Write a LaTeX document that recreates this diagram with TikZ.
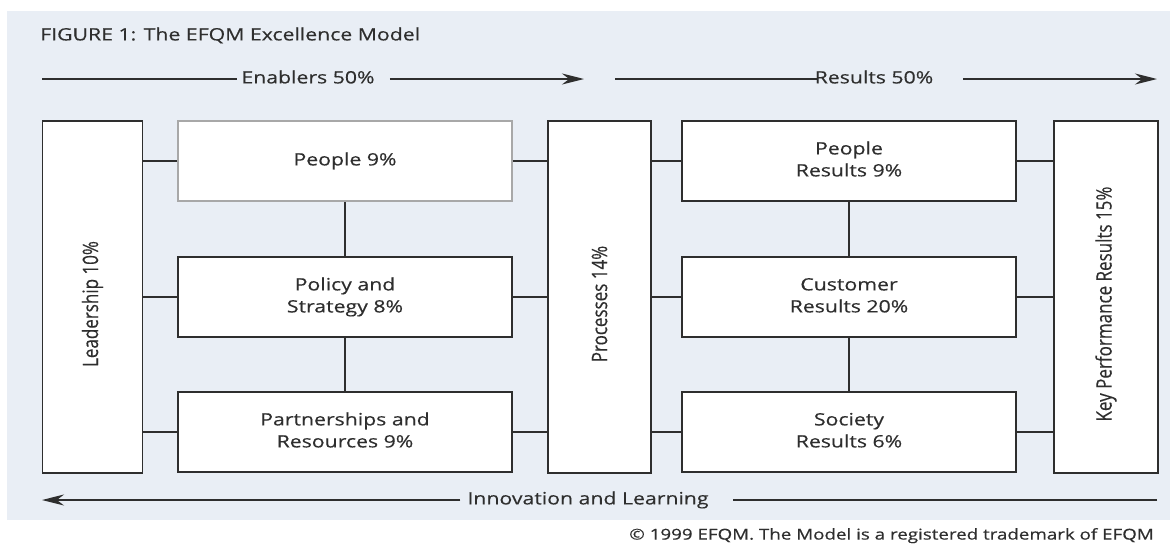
\documentclass[tikz,border=0pt]{standalone}
\usepackage{fontspec}
\setmainfont{Open Sans}[UprightFeatures={FakeBold=0.35}]
\usetikzlibrary{arrows.meta}
\definecolor{panel}{HTML}{E9EEF5}
\definecolor{ink}{HTML}{2E2E2E}
\definecolor{lightedge}{HTML}{A8A8A8}
\newcommand{\hwide}[1]{\scalebox{1.25}[1]{\begin{tabular}{@{}c@{}}#1\end{tabular}}}
\newcommand{\vwide}[1]{\rotatebox{90}{\scalebox{1}[1.25]{#1\hspace{14pt}}}}
\tikzset{
  box/.style={draw=ink, line width=1.6pt, fill=white, inner sep=0pt, align=center, text=ink, font=\fontsize{17}{22}\selectfont},
  link/.style={draw=ink, line width=1.5pt},
  flow/.style={draw=ink, line width=2pt},
  lbl/.style={text=ink, font=\fontsize{17}{22}\selectfont, inner sep=0pt},
  tip/.style={-{Stealth[length=22pt,width=11pt]}}
}
\begin{document}
\begin{tikzpicture}[x=1pt,y=-1pt]
\useasboundingbox (0,0) rectangle (1170,544);
\fill[white] (0,0) rectangle (1170,544);
\fill[panel] (7,11) rectangle (1170,520);
% title
\node[lbl, anchor=west] (title) at (40,36) {\hwide{FIGURE 1: The EFQM Excellence Model}};
% top flows
\coordinate (eS) at (42,79);
\coordinate (eE) at (584,79);
\node[lbl] (enab) at (308,79) {\hwide{Enablers 50\%}};
\draw[flow] (eS) -- ([xshift=-4pt]enab.west);
\draw[flow, tip] ([xshift=15pt]enab.east) -- (eE);
\coordinate (rS) at (615,79);
\coordinate (rE) at (1157,79);
\node[lbl] (res) at (874,79) {\hwide{Results 50\%}};
\draw[flow] (rS) -- ([xshift=2pt]res.west);
\draw[flow, tip] ([xshift=30pt]res.east) -- (rE);
% boxes
\node[box, minimum width=100pt, minimum height=352pt] (lead) at (92.5,297) {\vwide{Leadership 10\%}};
\node[box, draw=lightedge, minimum width=334pt, minimum height=80pt] (peo) at (345,161) {\hwide{People 9\%}};
\node[box, minimum width=334pt, minimum height=80pt] (pol) at (345,297) {\hwide{Policy and\\Strategy 8\%}};
\node[box, minimum width=334pt, minimum height=80pt] (par) at (345,432) {\hwide{Partnerships and\\Resources 9\%}};
\node[box, minimum width=103pt, minimum height=352pt] (proc) at (599.5,297) {\vwide{Processes 14\%}};
\node[box, minimum width=334pt, minimum height=80pt] (pr) at (849,161) {\hwide{People\\Results 9\%}};
\node[box, minimum width=334pt, minimum height=80pt] (cr) at (849,297) {\hwide{Customer\\Results 20\%}};
\node[box, minimum width=334pt, minimum height=80pt] (sr) at (849,432) {\hwide{Society\\Results 6\%}};
\node[box, minimum width=104pt, minimum height=352pt] (kpr) at (1106,297) {\vwide{Key Performance Results 15\%}};
% connectors
\foreach \b in {peo,pol,par}{
  \draw[link] (\b.west) -- (lead.east |- \b.west);
  \draw[link] (\b.east) -- (proc.west |- \b.east);
}
\foreach \b in {pr,cr,sr}{
  \draw[link] (\b.west) -- (proc.east |- \b.west);
  \draw[link] (\b.east) -- (kpr.west |- \b.east);
}
\draw[link] (peo.south) -- (pol.north);
\draw[link] (pol.south) -- (par.north);
\draw[link] (pr.south) -- (cr.north);
\draw[link] (cr.south) -- (sr.north);
% bottom flow
\coordinate (iS) at (1157,500);
\coordinate (iE) at (42,500);
\node[lbl] (inno) at (588,500) {\hwide{Innovation and Learning}};
\draw[flow] (iS) -- ([xshift=24pt]inno.east);
\draw[flow, tip] ([xshift=-7pt]inno.west) -- (iE);
% copyright
\node[lbl, anchor=east, font=\fontsize{15}{18}\selectfont] (copy) at (1154,536) {\hwide{\textcopyright{} 1999 EFQM. The Model is a registered trademark of EFQM}};
\end{tikzpicture}
\end{document}
